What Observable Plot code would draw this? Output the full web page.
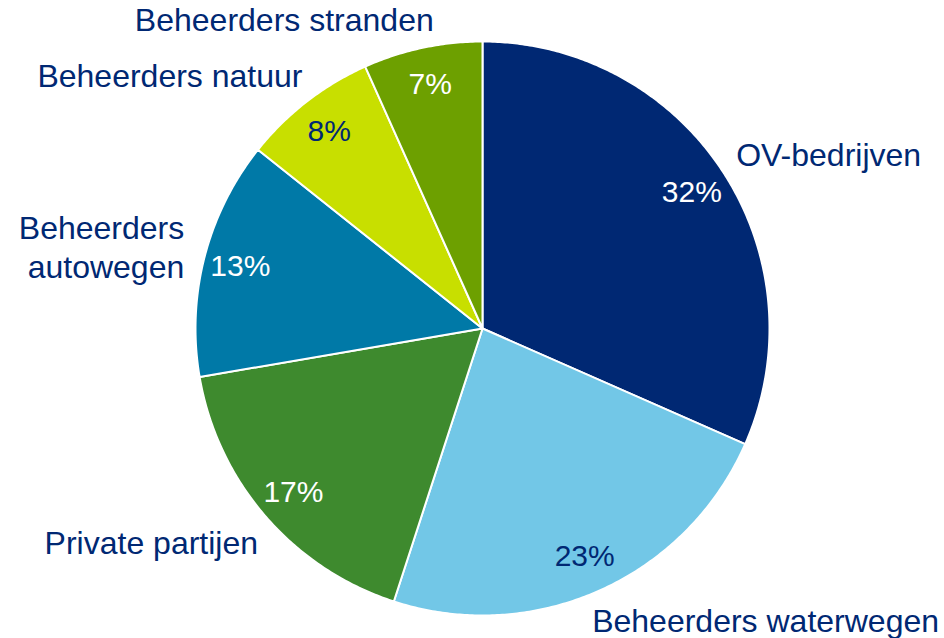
<!DOCTYPE html>
<html>
<head>
<meta charset="utf-8">
<script src="https://cdn.jsdelivr.net/npm/d3@7"></script>
<script src="https://cdn.jsdelivr.net/npm/@observablehq/plot@0.6"></script>
<style>
  html, body { margin: 0; padding: 0; background: #fff; }
</style>
</head>
<body>
<div id="chart"></div>
<script>
// ---- data ----
const categories = ["OV-bedrijven", "Beheerders waterwegen", "Private partijen", "Beheerders\nautowegen", "Beheerders natuur", "Beheerders stranden"];
const shares = [31.6, 23.4, 17.3, 13.4, 7.6, 6.7];
const percentLabels = ["32%", "23%", "17%", "13%", "8%", "7%"];
const sliceColors = ["#002873", "#72C7E7", "#3E8A2E", "#0079A7", "#C8DF00", "#6DA000"];
const percentTextColors = ["#ffffff", "#002873", "#ffffff", "#ffffff", "#002873", "#ffffff"];
const labelColor = "#002873";

// ---- layout ----
const W = 944, H = 638;
const cx = 482, cy = 328;   // pie centre in pixels
const R = 287;              // pie radius
const rPct = 250;           // radius of percent labels
const rCat = 310;           // radius of category labels
// small pixel nudges (dx right, dy down) for the outside labels
const labelNudge = [[-6, -5], [-17, 8], [10, 10], [2, -5], [10, -9], [16, -7]];
const font = "Liberation Sans, Arial, Helvetica, sans-serif";

const total = d3.sum(shares);
let acc = 0;
const slices = categories.map((name, i) => {
  const a0 = acc / total * 2 * Math.PI;
  acc += shares[i];
  const a1 = acc / total * 2 * Math.PI;
  const am = (a0 + a1) / 2;
  return {
    name, i, a0, a1, am,
    pct: percentLabels[i],
    px: rPct * Math.sin(am), py: rPct * Math.cos(am),
    lx: rCat * Math.sin(am) + labelNudge[i][0],
    ly: rCat * Math.cos(am) - labelNudge[i][1]
  };
});

function slicePoints(s) {
  const pts = [{x: 0, y: 0}];
  const n = Math.max(2, Math.ceil((s.a1 - s.a0) / (Math.PI / 360)));
  for (let k = 0; k <= n; k++) {
    const a = s.a0 + (s.a1 - s.a0) * k / n;
    pts.push({x: R * Math.sin(a), y: R * Math.cos(a)});
  }
  pts.push({x: 0, y: 0});
  return pts;
}

const sliceMarks = slices.map(s =>
  Plot.line(slicePoints(s), {
    x: "x", y: "y",
    fill: sliceColors[s.i],
    stroke: "#ffffff",
    strokeWidth: 2,
    strokeLinejoin: "round",
    curve: "linear"
  })
);

const pctMarks = [...new Set(percentTextColors)].map(c =>
  Plot.text(slices.filter(s => percentTextColors[s.i] === c), {
    x: "px", y: "py", text: "pct",
    fill: c, fontSize: 30, textAnchor: "middle", lineAnchor: "middle",
    fontFamily: font
  })
);

const catRight = Plot.text(slices.filter(s => Math.sin(s.am) >= 0), {
  x: "lx", y: "ly", text: "name",
  fill: labelColor, fontSize: 32, textAnchor: "start", lineAnchor: "middle",
  lineHeight: 1.2, fontFamily: font
});
const catLeft = Plot.text(slices.filter(s => Math.sin(s.am) < 0), {
  x: "lx", y: "ly", text: "name",
  fill: labelColor, fontSize: 32, textAnchor: "end", lineAnchor: "middle",
  lineHeight: 1.2, fontFamily: font
});

const chart = Plot.plot({
  width: W,
  height: H,
  margin: 0,
  x: {domain: [-cx, W - cx], axis: null},
  y: {domain: [-(H - cy), cy], axis: null},
  style: {background: "#ffffff", fontFamily: font, overflow: "visible"},
  marks: [...sliceMarks, ...pctMarks, catRight, catLeft]
});

document.getElementById("chart").appendChild(chart);
</script>
</body>
</html>
